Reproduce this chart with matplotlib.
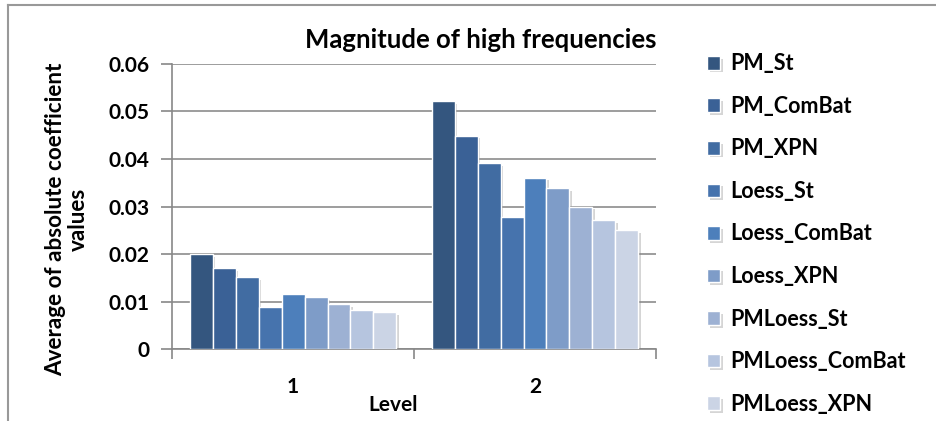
import matplotlib.pyplot as plt
import matplotlib.patheffects as pe
import numpy as np

plt.rcParams['font.family'] = ['Lato', 'DejaVu Sans']
plt.rcParams['font.weight'] = 'bold'

levels = ['1', '2']
series = ['PM_St', 'PM_ComBat', 'PM_XPN', 'Loess_St', 'Loess_ComBat',
          'Loess_XPN', 'PMLoess_St', 'PMLoess_ComBat', 'PMLoess_XPN']
level1 = [0.0200, 0.0171, 0.0152, 0.0089, 0.0116, 0.0110, 0.0095, 0.0082, 0.0078]
level2 = [0.0522, 0.0449, 0.0392, 0.0277, 0.0361, 0.0338, 0.0300, 0.0271, 0.0250]
colors = ['#34567f', '#3a6196', '#416ca2', '#4673ad', '#4d7fbb',
          '#7e9cc8', '#9db1d3', '#b6c5df', '#cbd4e5']

fig = plt.figure(figsize=(9.37, 4.21), dpi=100)
ax = fig.add_axes([0.1836, 0.171, 0.5165, 0.677])

x = np.arange(len(levels))
width = 0.855 / len(series)
shadow = [pe.SimplePatchShadow(offset=(2, -2), shadow_rgbFace='#888888', alpha=0.35), pe.Normal()]
for i, name in enumerate(series):
    vals = [level1[i], level2[i]]
    pos = x - 0.855 / 2 + width * (i + 0.5)
    bars = ax.bar(pos, vals, width, color=colors[i], edgecolor='white', linewidth=1, label=name, zorder=3)
    for b in bars:
        b.set_path_effects(shadow)

fs = 15
ax.set_xlim(-0.5, 1.5)
ax.set_ylim(0, 0.06)
ax.set_yticks(np.arange(0, 0.061, 0.01))
ax.set_yticklabels(['0', '0.01', '0.02', '0.03', '0.04', '0.05', '0.06'], fontsize=fs)
ax.set_xticks(x)
ax.set_xticklabels(levels, fontsize=fs)
ax.set_xticks([-0.5, 0.5, 1.5], minor=True)
ax.tick_params(axis='x', which='major', length=0, pad=20)
ax.tick_params(axis='x', which='minor', length=7, color='#888888', width=1.2)
ax.tick_params(axis='y', length=8, color='#888888', width=1.2, pad=8)
ax.grid(axis='y', color='#8c8c8c', linewidth=1.2, zorder=0)
for s in ['top', 'right']:
    ax.spines[s].set_visible(False)
for s in ['left', 'bottom']:
    ax.spines[s].set_color('#888888')
    ax.spines[s].set_linewidth(1.2)

fig.text(481 / 937, 1 - 40 / 421, 'Magnitude of high frequencies', ha='center', va='center', fontsize=18.5, fontweight='bold')
fig.text(67 / 937, 1 - 219 / 421, 'Average of absolute coefficient\nvalues', rotation=90, ha='center', va='center',
         fontsize=16.2, fontweight='bold', linespacing=1.1)
fig.text(393 / 937, 1 - 405 / 421, 'Level', ha='center', va='center', fontsize=fs, fontweight='bold')

handles, labels = ax.get_legend_handles_labels()
fig.legend(handles, labels, loc='upper left', bbox_to_anchor=(688 / 937, 1 - 34 / 421), frameon=False,
           fontsize=15.5, handlelength=0.6, handleheight=0.6, handletextpad=0.45, labelspacing=1.0)

# outer chart frame
fig.add_artist(plt.Line2D([8 / 937, 8 / 937], [0, 1 - 5 / 421], color='#999999', linewidth=1.5))
fig.add_artist(plt.Line2D([8 / 937, 1], [1 - 5 / 421, 1 - 5 / 421], color='#999999', linewidth=1.5))

fig.savefig('out.png', dpi=100)
